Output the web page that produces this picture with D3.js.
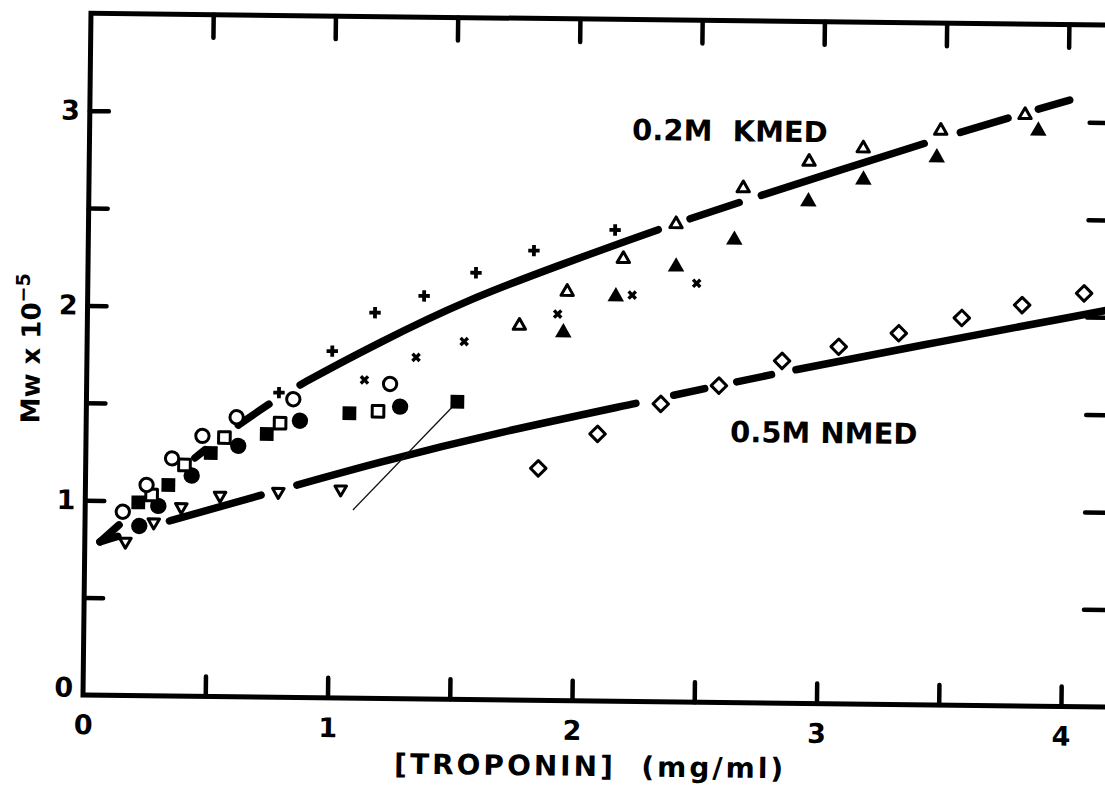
<!DOCTYPE html>
<html>
<head>
<meta charset="utf-8">
<script src="https://cdn.jsdelivr.net/npm/d3@7"></script>
<style>
  html, body { margin: 0; padding: 0; background: #fff; }
  svg { display: block; }
  text { font-family: "DejaVu Sans", "Liberation Sans", sans-serif; font-weight: bold; fill: #000; }
</style>
</head>
<body>
<script>
// ---- tick values ----
const xTickValues = [0, 0.5, 1, 1.5, 2, 2.5, 3, 3.5, 4];
const yTickValues = [0, 0.5, 1, 1.5, 2, 2.5, 3];

// ---- measured points: [troponin mg/ml, Mw x 10^-5] ----
const openCircles = [[0.154,0.943],[0.250,1.082],[0.353,1.220],[0.476,1.337],[0.615,1.435],[0.846,1.531],[1.241,1.615]];
const filledCircles = [[0.222,0.871],[0.299,0.975],[0.434,1.133],[0.623,1.288],[0.874,1.421],[1.283,1.499]];
const openSquares = [[0.271,1.031],[0.404,1.187],[0.566,1.330],[0.793,1.407],[1.193,1.474]];
const filledSquares = [[0.217,0.992],[0.339,1.083],[0.511,1.250],[0.739,1.351],[1.076,1.462],[1.517,1.528]];
const openDownTriangles = [[0.166,0.790],[0.281,0.891],[0.393,0.971],[0.551,1.032],[0.789,1.055],[1.044,1.071]];
const plusMarks = [[0.787,1.564],[1.003,1.780],[1.176,1.980],[1.376,2.069],[1.587,2.191],[1.823,2.308],[2.154,2.419]];
const crossMarks = [[1.136,1.634],[1.346,1.753],[1.542,1.837],[1.923,1.984],[2.227,2.086],[2.490,2.150]];
const openTriangles = [[1.767,1.922],[1.961,2.099],[2.189,2.271],[2.403,2.453],[2.676,2.641],[2.944,2.781],[3.165,2.853],[3.481,2.948],[3.825,3.034]];
const filledTriangles = [[1.947,1.889],[2.160,2.077],[2.405,2.234],[2.642,2.375],[2.943,2.576],[3.167,2.691],[3.466,2.810],[3.880,2.953]];
const openDiamonds = [[1.851,1.191],[2.092,1.371],[2.349,1.529],[2.586,1.626],[2.843,1.757],[3.074,1.833],[3.319,1.906],[3.576,1.988],[3.822,2.058],[4.075,2.122]];

// ---- fitted curves and the breaks drawn in them ----
const kmedFitX = [0.062,0.151,0.434,0.609,0.759,0.860,1.197,1.551,1.930,2.345,2.675,3.428,3.770,4.007];
const kmedFitY = [0.787,0.888,1.218,1.385,1.515,1.599,1.830,2.051,2.236,2.432,2.575,2.889,3.023,3.113];
const kmedGaps = [[0.151,0.434],[0.499,0.609],[0.759,0.860],[2.345,2.446],[2.675,2.736],[3.428,3.546],[3.770,3.864]];

const nmedFitX = [0.062,0.331,0.734,1.203,1.692,2.262,2.816,3.483,4.140,4.200];
const nmedFitY = [0.787,0.895,1.042,1.216,1.375,1.534,1.693,1.864,2.029,2.044];
const nmedGaps = [[0.150,0.331],[0.734,0.850],[2.262,2.387],[2.543,2.644],[2.816,2.886]];

// thin pointer line from the last filled square
const pointerLine = [[1.095,0.966],[1.517,1.528]];

// curve labels: [x, y] of the text baseline start
const kmedLabel = {text: "0.2M  KMED", at: [2.219, 2.882]};
const nmedLabel = {text: "0.5M NMED", at: [2.634, 1.338]};

// ---- layout ----
const W = 1105, H = 790;
const originX = 83, originY = 695, tilt = 0.67;
const pxPerX = 244.5, pxPerY = 194.8;
const xMax = 4.2, yMax = 3.5;
const plotW = xMax * pxPerX, plotH = yMax * pxPerY;

const svg = d3.select("body").append("svg").attr("width", W).attr("height", H);
svg.append("rect").attr("width", W).attr("height", H).attr("fill", "#fff");

const g = svg.append("g")
  .attr("transform", `rotate(${tilt},${originX},${originY}) translate(${originX},${originY - plotH})`);

const x = d3.scaleLinear().domain([0, xMax]).range([0, plotW]);
const y = d3.scaleLinear().domain([0, yMax]).range([plotH, 0]);

// ---- axes: inward ticks on all four sides ----
const intFmt = d => Number.isInteger(d) ? String(d) : "";
function styleAxis(sel) {
  sel.select(".domain").remove();
  sel.selectAll(".tick line").attr("stroke", "#000").attr("stroke-width", 4.5).attr("stroke-linecap", "round");
  sel.selectAll(".tick text").style("font-size", "27px").style("font-family", "DejaVu Sans").style("font-weight", "bold").attr("fill", "#000");
}

g.append("g").attr("transform", `translate(0,${plotH})`)
  .call(d3.axisBottom(x).tickValues(xTickValues).tickSizeInner(-20).tickSizeOuter(0).tickPadding(20).tickFormat(intFmt))
  .call(styleAxis)
  .call(a => a.selectAll(".tick").filter(d => d === 0).select("line").remove());

g.append("g")
  .call(d3.axisLeft(y).tickValues(yTickValues).tickSizeInner(-19).tickSizeOuter(0).tickPadding(10).tickFormat(intFmt))
  .call(styleAxis)
  .call(a => a.selectAll(".tick").filter(d => d === 0).select("line").remove())
  .call(a => a.selectAll(".tick").filter(d => d === 0).select("text").attr("dy", "0.05em"));

g.append("g")
  .call(d3.axisTop(x).tickValues(xTickValues.filter(d => d > 0)).tickSizeInner(-23).tickSizeOuter(0).tickFormat(""))
  .call(styleAxis);

g.append("g").attr("transform", `translate(${plotW},0)`)
  .call(d3.axisRight(y).tickValues(yTickValues.filter(d => d > 0)).tickSizeInner(-27).tickSizeOuter(0).tickFormat(""))
  .call(styleAxis);

// frame
g.append("rect").attr("width", plotW).attr("height", plotH)
  .attr("fill", "none").attr("stroke", "#000").attr("stroke-width", 5);

// ---- axis titles ----
g.append("text")
  .attr("x", 508).attr("y", plotH + 75)
  .attr("text-anchor", "middle")
  .style("font-size", "28px").style("letter-spacing", "3px").style("white-space", "pre")
  .text("[TROPONIN]  (mg/ml)");

const yTitle = g.append("text")
  .attr("transform", `translate(-47,${plotH - 271}) rotate(-90)`)
  .style("font-size", "26px");
yTitle.append("tspan").text("Mw x 10");
yTitle.append("tspan").attr("dy", -11).style("font-size", "19px").text("\u22125");

// ---- fitted curves with breaks ----
const fitLine = d3.line().x(d => x(d[0])).y(d => y(d[1])).curve(d3.curveBasis);
const fitWidth = 7.5;

function drawFit(xs, ys, gaps) {
  const path = g.append("path")
    .attr("d", fitLine(d3.zip(xs, ys)))
    .attr("fill", "none").attr("stroke", "#000")
    .attr("stroke-width", fitWidth).attr("stroke-linecap", "round");
  const node = path.node();
  const L = node.getTotalLength();
  const lengthAt = xv => {
    const target = x(xv);
    let lo = 0, hi = L;
    for (let i = 0; i < 40; i++) {
      const mid = (lo + hi) / 2;
      if (node.getPointAtLength(mid).x < target) lo = mid; else hi = mid;
    }
    return (lo + hi) / 2;
  };
  const h = fitWidth / 2;
  const stops = [0];
  gaps.forEach(([a, b]) => { stops.push(lengthAt(a) - h, lengthAt(b) + h); });
  stops.push(L);
  const dash = [];
  for (let i = 1; i < stops.length; i++) dash.push(Math.max(0, stops[i] - stops[i - 1]));
  dash.push(L + 20);
  path.attr("stroke-dasharray", dash.join(" "));
}
drawFit(kmedFitX, kmedFitY, kmedGaps);
drawFit(nmedFitX, nmedFitY, nmedGaps);

g.append("path")
  .attr("d", d3.line().x(d => x(d[0])).y(d => y(d[1]))(pointerLine))
  .attr("fill", "none").attr("stroke", "#111").attr("stroke-width", 1.3);

// ---- markers ----
function drawMarks(data, type, size, opts) {
  const o = Object.assign({fill: "#000", stroke: "none", sw: 0, rot: 0}, opts);
  g.append("g").selectAll("path").data(data).join("path")
    .attr("d", d3.symbol().type(type).size(size)())
    .attr("transform", d => `translate(${x(d[0])},${y(d[1])}) rotate(${o.rot})`)
    .attr("fill", o.fill).attr("stroke", o.stroke).attr("stroke-width", o.sw)
    .attr("stroke-linejoin", "round");
}

drawMarks(openDownTriangles, d3.symbolTriangle, 58, {fill: "#fff", stroke: "#000", sw: 3, rot: 180});
drawMarks(filledCircles, d3.symbolCircle, 210, {});
drawMarks(filledSquares, d3.symbolSquare, 190, {});
drawMarks(openSquares, d3.symbolSquare, 135, {fill: "#fff", stroke: "#000", sw: 3});
drawMarks(openCircles, d3.symbolCircle, 140, {fill: "#fff", stroke: "#000", sw: 3});
drawMarks(plusMarks, d3.symbolCross, 72, {});
drawMarks(crossMarks, d3.symbolCross, 58, {rot: 45});
drawMarks(openTriangles, d3.symbolTriangle, 66, {fill: "#fff", stroke: "#000", sw: 3});
drawMarks(filledTriangles, d3.symbolTriangle, 118, {});
drawMarks(openDiamonds, d3.symbolSquare, 121, {fill: "#fff", stroke: "#000", sw: 3, rot: 45});

// ---- curve labels ----
[kmedLabel, nmedLabel].forEach(l => {
  g.append("text")
    .attr("x", x(l.at[0])).attr("y", y(l.at[1]))
    .style("font-size", "29px").style("white-space", "pre")
    .text(l.text);
});
</script>
</body>
</html>
